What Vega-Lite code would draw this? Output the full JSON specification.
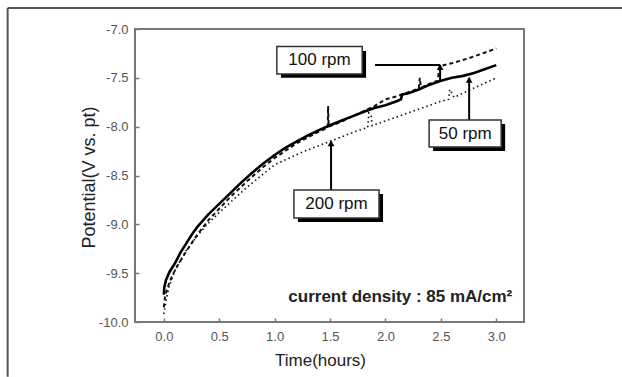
{
  "$schema": "https://vega.github.io/schema/vega-lite/v6.json",
  "width": 389,
  "height": 293,
  "autosize": {"type": "none"},
  "padding": {"left": 135, "top": 29, "right": 98, "bottom": 55},
  "background": "white",
  "config": {
    "view": {"stroke": "#777", "strokeWidth": 2},
    "font": "Liberation Sans"
  },
  "datasets": {
    "curves": [
      {"series": "50 rpm", "t": 0, "v": -9.72},
      {"series": "50 rpm", "t": 0.005, "v": -9.64},
      {"series": "50 rpm", "t": 0.02, "v": -9.57},
      {"series": "50 rpm", "t": 0.05, "v": -9.49},
      {"series": "50 rpm", "t": 0.1, "v": -9.4},
      {"series": "50 rpm", "t": 0.15, "v": -9.29},
      {"series": "50 rpm", "t": 0.2, "v": -9.2},
      {"series": "50 rpm", "t": 0.25, "v": -9.11},
      {"series": "50 rpm", "t": 0.3, "v": -9.03},
      {"series": "50 rpm", "t": 0.4, "v": -8.9},
      {"series": "50 rpm", "t": 0.5, "v": -8.79},
      {"series": "50 rpm", "t": 0.6, "v": -8.68},
      {"series": "50 rpm", "t": 0.7, "v": -8.57},
      {"series": "50 rpm", "t": 0.8, "v": -8.47},
      {"series": "50 rpm", "t": 0.9, "v": -8.375},
      {"series": "50 rpm", "t": 1.0, "v": -8.29},
      {"series": "50 rpm", "t": 1.1, "v": -8.215},
      {"series": "50 rpm", "t": 1.2, "v": -8.15},
      {"series": "50 rpm", "t": 1.3, "v": -8.09},
      {"series": "50 rpm", "t": 1.4, "v": -8.035},
      {"series": "50 rpm", "t": 1.5, "v": -7.985},
      {"series": "50 rpm", "t": 1.6, "v": -7.94},
      {"series": "50 rpm", "t": 1.7, "v": -7.895},
      {"series": "50 rpm", "t": 1.8, "v": -7.85},
      {"series": "50 rpm", "t": 1.9, "v": -7.81},
      {"series": "50 rpm", "t": 2.0, "v": -7.78},
      {"series": "50 rpm", "t": 2.1, "v": -7.74},
      {"series": "50 rpm", "t": 2.14, "v": -7.72},
      {"series": "50 rpm", "t": 2.15, "v": -7.67},
      {"series": "50 rpm", "t": 2.2, "v": -7.66},
      {"series": "50 rpm", "t": 2.3, "v": -7.62},
      {"series": "50 rpm", "t": 2.4, "v": -7.57},
      {"series": "50 rpm", "t": 2.5, "v": -7.53},
      {"series": "50 rpm", "t": 2.6, "v": -7.5},
      {"series": "50 rpm", "t": 2.7, "v": -7.48},
      {"series": "50 rpm", "t": 2.8, "v": -7.45},
      {"series": "50 rpm", "t": 2.9, "v": -7.41},
      {"series": "50 rpm", "t": 3.0, "v": -7.37},
      {"series": "100 rpm", "t": 0, "v": -9.85},
      {"series": "100 rpm", "t": 0.01, "v": -9.75},
      {"series": "100 rpm", "t": 0.03, "v": -9.66},
      {"series": "100 rpm", "t": 0.07, "v": -9.54},
      {"series": "100 rpm", "t": 0.12, "v": -9.43},
      {"series": "100 rpm", "t": 0.2, "v": -9.28},
      {"series": "100 rpm", "t": 0.3, "v": -9.11},
      {"series": "100 rpm", "t": 0.4, "v": -8.96},
      {"series": "100 rpm", "t": 0.5, "v": -8.84},
      {"series": "100 rpm", "t": 0.6, "v": -8.72},
      {"series": "100 rpm", "t": 0.75, "v": -8.56},
      {"series": "100 rpm", "t": 0.9, "v": -8.41},
      {"series": "100 rpm", "t": 1.0, "v": -8.32},
      {"series": "100 rpm", "t": 1.2, "v": -8.17},
      {"series": "100 rpm", "t": 1.4, "v": -8.05},
      {"series": "100 rpm", "t": 1.48, "v": -8.01},
      {"series": "100 rpm", "t": 1.482, "v": -7.79},
      {"series": "100 rpm", "t": 1.488, "v": -8.0},
      {"series": "100 rpm", "t": 1.6, "v": -7.95},
      {"series": "100 rpm", "t": 1.75, "v": -7.87},
      {"series": "100 rpm", "t": 1.9, "v": -7.79},
      {"series": "100 rpm", "t": 2.0, "v": -7.72},
      {"series": "100 rpm", "t": 2.1, "v": -7.69},
      {"series": "100 rpm", "t": 2.2, "v": -7.65},
      {"series": "100 rpm", "t": 2.3, "v": -7.61},
      {"series": "100 rpm", "t": 2.31, "v": -7.5},
      {"series": "100 rpm", "t": 2.32, "v": -7.6},
      {"series": "100 rpm", "t": 2.4, "v": -7.56},
      {"series": "100 rpm", "t": 2.47, "v": -7.53},
      {"series": "100 rpm", "t": 2.49, "v": -7.38},
      {"series": "100 rpm", "t": 2.6, "v": -7.35},
      {"series": "100 rpm", "t": 2.75, "v": -7.3},
      {"series": "100 rpm", "t": 2.9, "v": -7.24},
      {"series": "100 rpm", "t": 3.0, "v": -7.2},
      {"series": "200 rpm", "t": 0, "v": -9.92},
      {"series": "200 rpm", "t": 0.02, "v": -9.78},
      {"series": "200 rpm", "t": 0.05, "v": -9.63},
      {"series": "200 rpm", "t": 0.1, "v": -9.47},
      {"series": "200 rpm", "t": 0.2, "v": -9.27},
      {"series": "200 rpm", "t": 0.3, "v": -9.12},
      {"series": "200 rpm", "t": 0.4, "v": -8.99},
      {"series": "200 rpm", "t": 0.5, "v": -8.88},
      {"series": "200 rpm", "t": 0.75, "v": -8.62},
      {"series": "200 rpm", "t": 1.0, "v": -8.39},
      {"series": "200 rpm", "t": 1.25, "v": -8.26},
      {"series": "200 rpm", "t": 1.5, "v": -8.15},
      {"series": "200 rpm", "t": 1.75, "v": -8.04},
      {"series": "200 rpm", "t": 1.84, "v": -8.01},
      {"series": "200 rpm", "t": 1.85, "v": -7.86},
      {"series": "200 rpm", "t": 1.87, "v": -7.88},
      {"series": "200 rpm", "t": 1.88, "v": -7.99},
      {"series": "200 rpm", "t": 2.0, "v": -7.94},
      {"series": "200 rpm", "t": 2.25, "v": -7.84},
      {"series": "200 rpm", "t": 2.5, "v": -7.74},
      {"series": "200 rpm", "t": 2.57, "v": -7.72},
      {"series": "200 rpm", "t": 2.58, "v": -7.62},
      {"series": "200 rpm", "t": 2.6, "v": -7.66},
      {"series": "200 rpm", "t": 2.62, "v": -7.7},
      {"series": "200 rpm", "t": 2.75, "v": -7.63},
      {"series": "200 rpm", "t": 3.0, "v": -7.5}
    ],
    "boxes": [
      {"label": "100 rpm", "x1": 1.02, "x2": 1.79, "y1": -7.18, "y2": -7.46, "sx1": 1.057, "sx2": 1.825, "sy1": -7.225, "sy2": -7.5, "tx": 1.405, "ty": -7.32},
      {"label": "50 rpm", "x1": 2.394, "x2": 3.044, "y1": -7.931, "y2": -8.208, "sx1": 2.43, "sx2": 3.08, "sy1": -7.972, "sy2": -8.249, "tx": 2.72, "ty": -8.07},
      {"label": "200 rpm", "x1": 1.174, "x2": 1.942, "y1": -8.648, "y2": -8.934, "sx1": 1.21, "sx2": 1.978, "sy1": -8.689, "sy2": -8.975, "tx": 1.558, "ty": -8.79}
    ],
    "arrows": [
      {"x1": 1.906, "y1": -7.368, "x2": 2.493, "y2": -7.368},
      {"x1": 2.493, "y1": -7.522, "x2": 2.493, "y2": -7.37},
      {"x1": 2.755, "y1": -7.931, "x2": 2.755, "y2": -7.5},
      {"x1": 1.509, "y1": -8.648, "x2": 1.509, "y2": -8.15}
    ],
    "heads": [
      {"x": 2.493, "y": -7.39},
      {"x": 2.755, "y": -7.52},
      {"x": 1.509, "y": -8.17}
    ],
    "notes": [
      {"text": "current density : 85 mA/cm²", "x": 3.144, "y": -9.743}
    ],
    "frame": [
      {"x1": -1.409, "y1": -6.785, "x2": 4.14, "y2": -6.785},
      {"x1": -1.409, "y1": -6.785, "x2": -1.409, "y2": -10.56}
    ]
  },
  "layer": [
    {
      "data": {"name": "curves"},
      "transform": [{"filter": "datum.series === '200 rpm'"}],
      "mark": {"type": "line", "color": "#111", "strokeWidth": 1.6, "strokeDash": [1.5, 3], "clip": true},
      "encoding": {
        "x": {
          "field": "t", "type": "quantitative",
          "scale": {"domain": [-0.26, 3.25], "nice": false, "zero": false},
          "axis": {
            "title": "Time(hours)",
            "values": [0, 0.25, 0.5, 0.75, 1, 1.25, 1.5, 1.75, 2, 2.25, 2.5, 2.75, 3],
            "labelExpr": "abs(datum.value*2 - round(datum.value*2)) < 0.001 ? format(datum.value, '.1f') : ''",
            "grid": false, "domain": false,
            "tickSize": -4, "tickColor": "#777", "tickWidth": 1.5,
            "labelPadding": 12, "labelFontSize": 13, "labelColor": "#555", "labelFont": "Liberation Sans",
            "titleFontSize": 17, "titleFontWeight": "normal", "titleColor": "#222", "titleFont": "Liberation Sans",
            "titleX": 185, "titleY": 38, "titleBaseline": "middle", "titleAlign": "center"
          }
        },
        "y": {
          "field": "v", "type": "quantitative",
          "scale": {"domain": [-10, -7], "nice": false, "zero": false},
          "axis": {
            "title": "Potential(V vs. pt)",
            "values": [-10, -9.75, -9.5, -9.25, -9, -8.75, -8.5, -8.25, -8, -7.75, -7.5, -7.25, -7],
            "labelExpr": "abs(datum.value*2 - round(datum.value*2)) < 0.001 ? '-' + format(abs(datum.value), '.1f') : ''",
            "grid": false, "domain": false,
            "tickSize": -4, "tickColor": "#777", "tickWidth": 1.5,
            "labelPadding": 11, "labelFontSize": 13, "labelColor": "#555", "labelFont": "Liberation Sans",
            "titleFontSize": 18, "titleFontWeight": "normal", "titleColor": "#222", "titleFont": "Liberation Sans",
            "titleX": -46, "titleY": 148, "titleBaseline": "middle", "titleAlign": "center", "titleAngle": -90
          }
        }
      }
    },
    {
      "data": {"name": "curves"},
      "transform": [{"filter": "datum.series === '100 rpm'"}],
      "mark": {"type": "line", "color": "#111", "strokeWidth": 2, "strokeDash": [4, 3], "clip": true},
      "encoding": {
        "x": {"field": "t", "type": "quantitative"},
        "y": {"field": "v", "type": "quantitative"}
      }
    },
    {
      "data": {"name": "curves"},
      "transform": [{"filter": "datum.series === '50 rpm'"}],
      "mark": {"type": "line", "color": "#000", "strokeWidth": 2.6, "clip": true},
      "encoding": {
        "x": {"field": "t", "type": "quantitative"},
        "y": {"field": "v", "type": "quantitative"}
      }
    },
    {
      "data": {"name": "arrows"},
      "mark": {"type": "rule", "color": "#000", "strokeWidth": 2},
      "encoding": {
        "x": {"field": "x1", "type": "quantitative"},
        "y": {"field": "y1", "type": "quantitative"},
        "x2": {"field": "x2"},
        "y2": {"field": "y2"}
      }
    },
    {
      "data": {"name": "heads"},
      "mark": {"type": "point", "shape": "triangle-up", "filled": true, "color": "#000", "size": 45, "opacity": 1},
      "encoding": {
        "x": {"field": "x", "type": "quantitative"},
        "y": {"field": "y", "type": "quantitative"}
      }
    },
    {
      "data": {"name": "boxes"},
      "mark": {"type": "rect", "color": "#000"},
      "encoding": {
        "x": {"field": "sx1", "type": "quantitative"},
        "x2": {"field": "sx2"},
        "y": {"field": "sy1", "type": "quantitative"},
        "y2": {"field": "sy2"}
      }
    },
    {
      "data": {"name": "boxes"},
      "mark": {"type": "rect", "fill": "white", "stroke": "#333", "strokeWidth": 1.5},
      "encoding": {
        "x": {"field": "x1", "type": "quantitative"},
        "x2": {"field": "x2"},
        "y": {"field": "y1", "type": "quantitative"},
        "y2": {"field": "y2"}
      }
    },
    {
      "data": {"name": "boxes"},
      "mark": {"type": "text", "fontSize": 17, "font": "Liberation Sans", "color": "#111", "align": "center", "baseline": "middle"},
      "encoding": {
        "x": {"field": "tx", "type": "quantitative"},
        "y": {"field": "ty", "type": "quantitative"},
        "text": {"field": "label"}
      }
    },
    {
      "data": {"name": "notes"},
      "mark": {"type": "text", "fontSize": 17, "fontWeight": "bold", "font": "Liberation Sans", "color": "#222", "align": "right", "baseline": "middle"},
      "encoding": {
        "x": {"field": "x", "type": "quantitative"},
        "y": {"field": "y", "type": "quantitative"},
        "text": {"field": "text"}
      }
    },
    {
      "data": {"name": "frame"},
      "mark": {"type": "rule", "color": "#555", "strokeWidth": 2},
      "encoding": {
        "x": {"field": "x1", "type": "quantitative"},
        "y": {"field": "y1", "type": "quantitative"},
        "x2": {"field": "x2"},
        "y2": {"field": "y2"}
      }
    }
  ]
}
